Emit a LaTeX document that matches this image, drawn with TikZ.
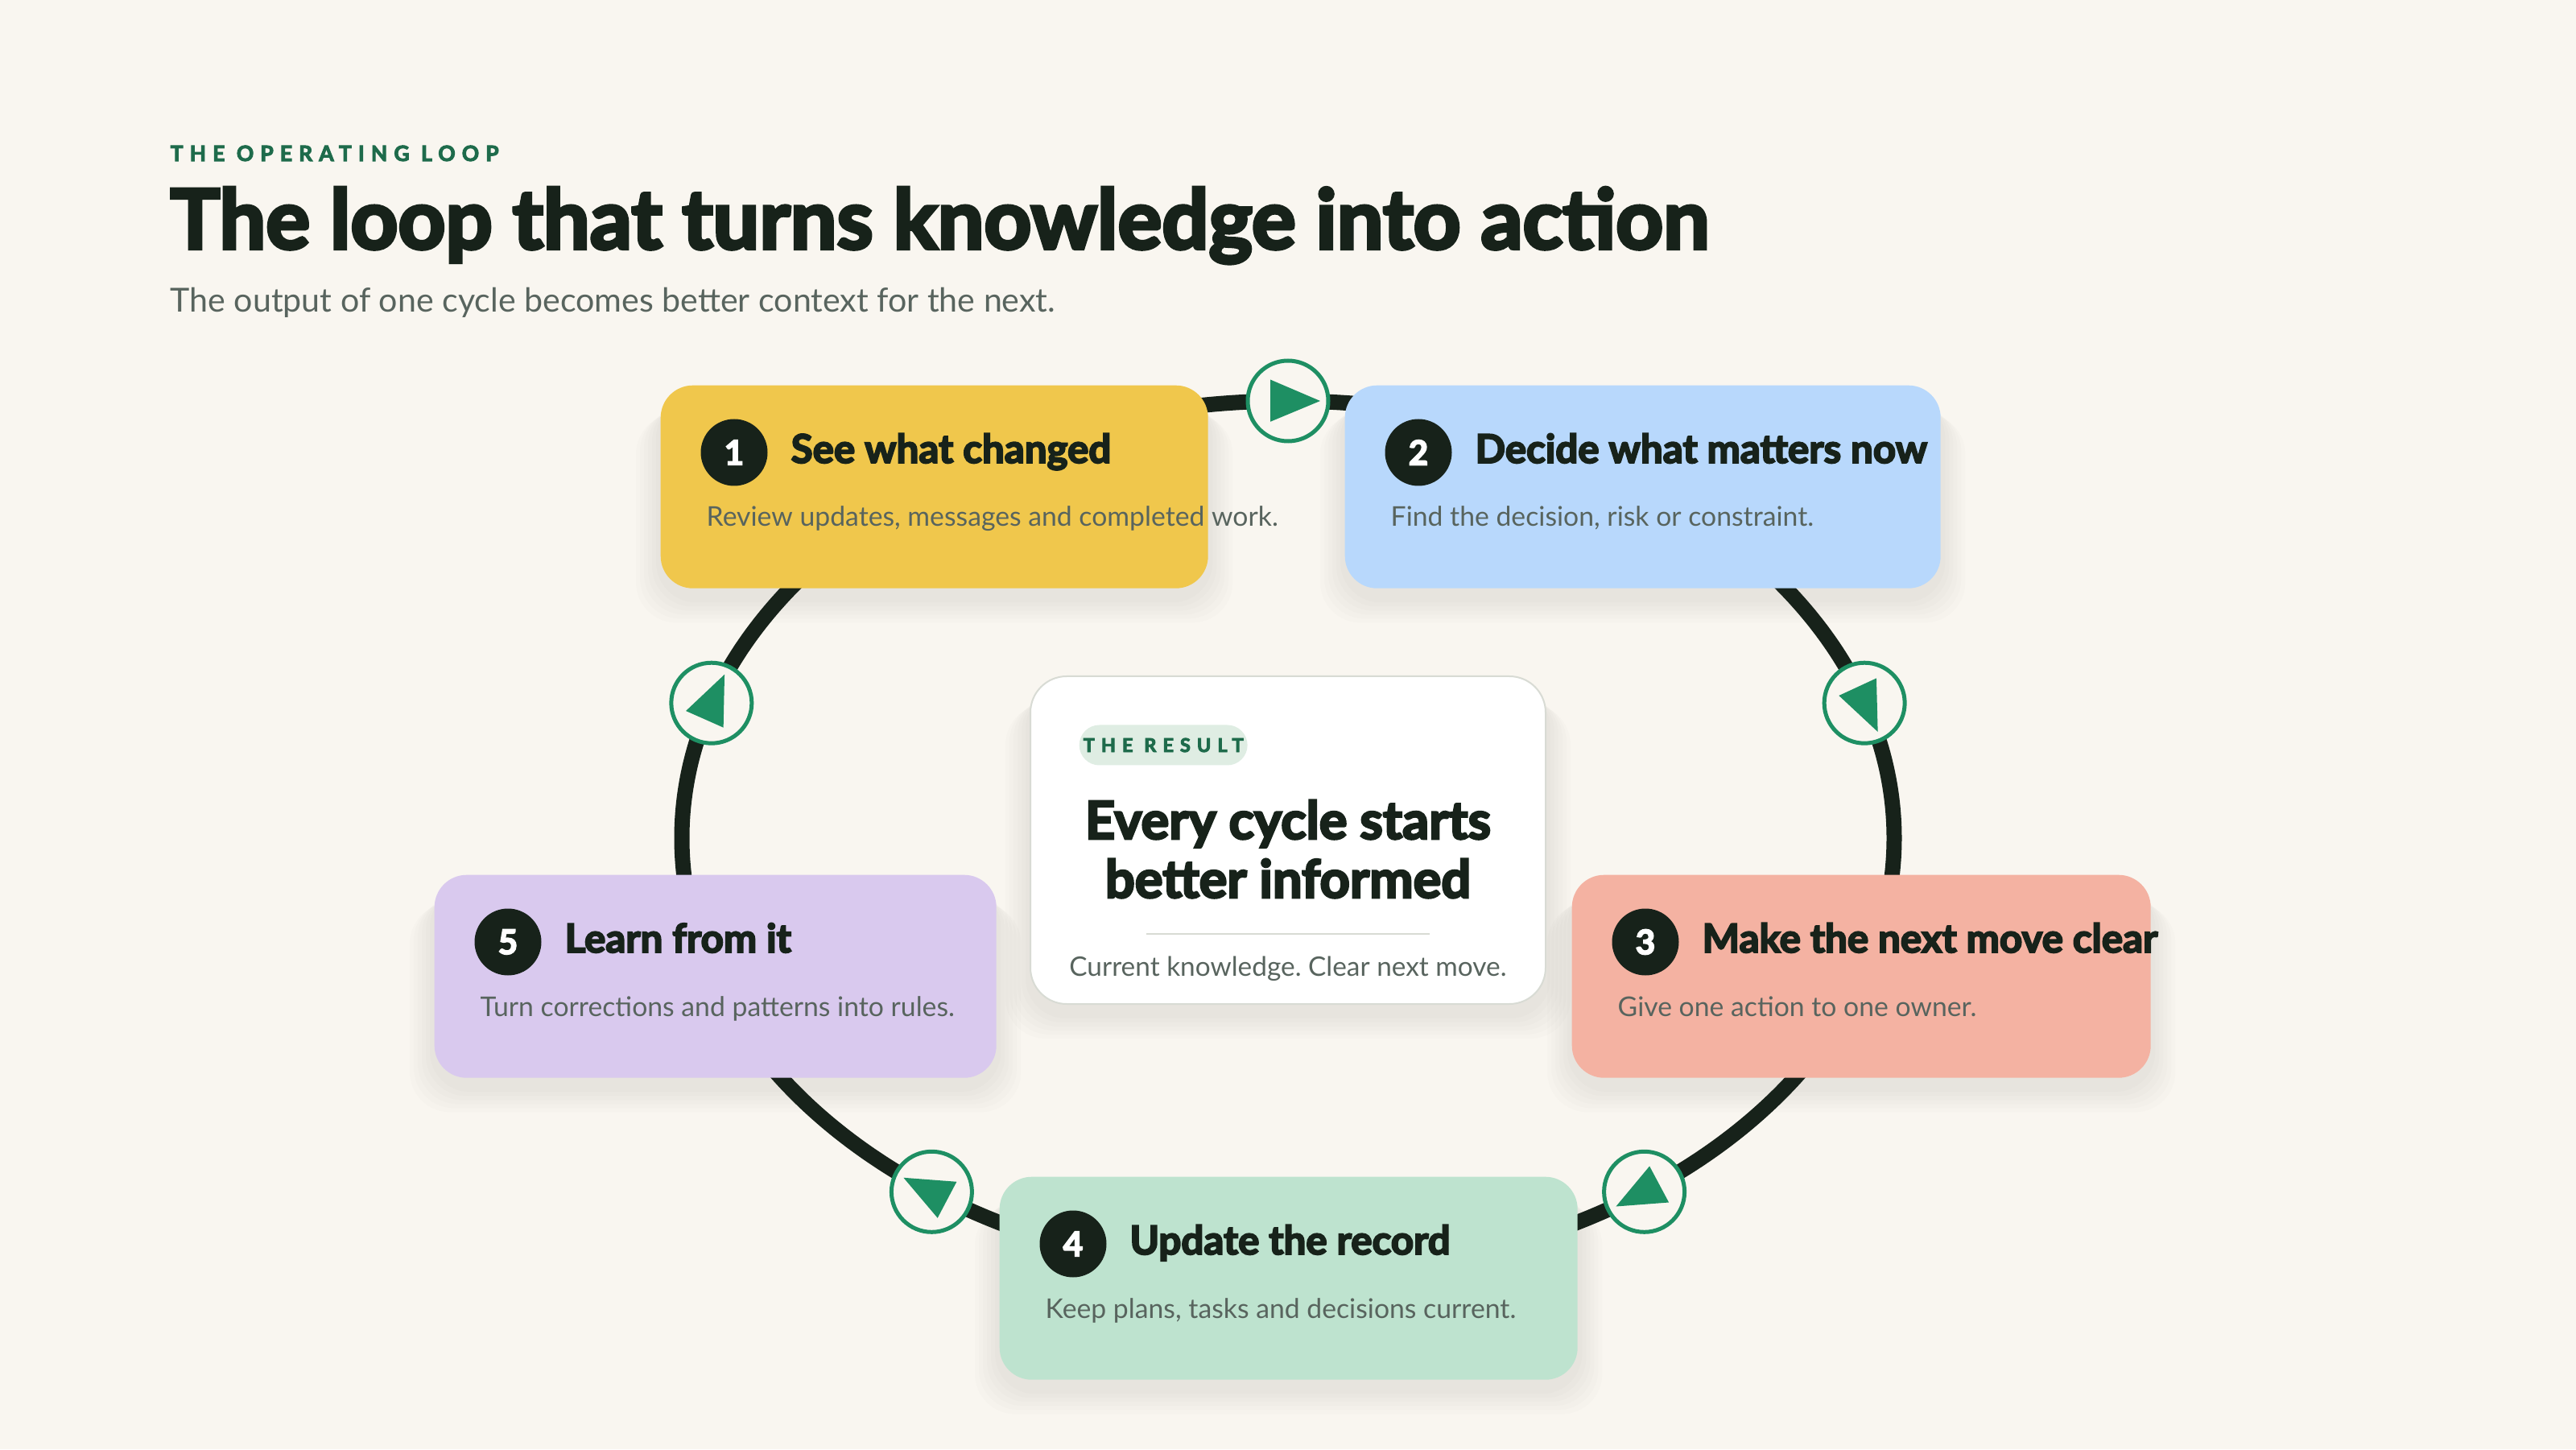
\documentclass[tikz,border=0pt]{standalone}
\usepackage{fontspec}
\usepackage{tikz}
\usetikzlibrary{positioning,backgrounds}

\setmainfont{Lato}
\newfontfamily\heavyfam{Lato}[BoldFeatures={FakeBold=4}]
\newcommand\heavy{\heavyfam\bfseries}
\frenchspacing

\definecolor{paper}{HTML}{F9F6F0}
\definecolor{ink}{HTML}{17221A}
\definecolor{muted}{HTML}{58645E}
\definecolor{kicker}{HTML}{1E6B4B}
\definecolor{loopgreen}{HTML}{1E8F63}
\definecolor{sunny}{HTML}{F0C74C}
\definecolor{sky}{HTML}{B8D8FC}
\definecolor{coral}{HTML}{F4B2A2}
\definecolor{mint}{HTML}{BEE3CF}
\definecolor{lilac}{HTML}{D9C9EE}
\definecolor{tagbg}{HTML}{DFEDE3}
\definecolor{hairline}{HTML}{D8DBD4}

\begin{document}
\begin{tikzpicture}
 \tikzstyle{card}=[rounded corners=0.4cm, minimum height=2.52cm, anchor=north west, inner sep=0]
 \tikzstyle{badge}=[circle, fill=ink, text=white, minimum size=0.83cm, inner sep=0, font=\heavy\fontsize{12}{12}\selectfont]
 \tikzstyle{steptitle}=[anchor=base west, inner sep=0, text=ink, font=\heavy\fontsize{14}{16}\selectfont]
 \tikzstyle{stepnote}=[anchor=base west, inner sep=0, text=muted, font=\fontsize{9.6}{11}\selectfont]
 \tikzstyle{turn}=[circle, draw=loopgreen, line width=0.05cm, fill=paper, minimum size=1cm, inner sep=0]
 \tikzstyle{haze}=[fill=ink, fill opacity=0.013, rounded corners=0.5cm]
 \useasboundingbox (0,0) rectangle (32,18);

 % heading
 \node[anchor=base west, inner sep=0, text=kicker, font=\heavy\fontsize{7.5}{9}\selectfont\addfontfeatures{LetterSpace=31}] (kick) at (2.11,16.0) {THE OPERATING LOOP};
 \node[anchor=base west, inner sep=0, text=ink, font=\heavy\fontsize{29.2}{30}\selectfont] (head) at (2.11,14.91) {The loop that turns knowledge into action};
 \node[anchor=base west, inner sep=0, text=muted, font=\fontsize{11.7}{13}\selectfont] (sub) at (2.11,14.12) {The output of one cycle becomes better context for the next.};

 % the five steps
 \node[card, fill=sunny, minimum width=6.8cm] (c1) at (8.2,13.22) {};
 \node[badge] (n1) at ([shift={(0.92,-0.84)}]c1.north west) {1};
 \node[steptitle] (t1) at ([shift={(1.62,-0.97)}]c1.north west) {See what changed};
 \node[stepnote] (d1) at ([shift={(0.57,-1.76)}]c1.north west) {Review updates, messages and completed work.};

 \node[card, fill=sky, minimum width=7.4cm] (c2) at (16.7,13.22) {};
 \node[badge] (n2) at ([shift={(0.92,-0.84)}]c2.north west) {2};
 \node[steptitle] (t2) at ([shift={(1.62,-0.97)}]c2.north west) {Decide what matters now};
 \node[stepnote] (d2) at ([shift={(0.57,-1.76)}]c2.north west) {Find the decision, risk or constraint.};

 \node[card, fill=coral, minimum width=7.19cm] (c3) at (19.52,7.14) {};
 \node[badge] (n3) at ([shift={(0.92,-0.84)}]c3.north west) {3};
 \node[steptitle] (t3) at ([shift={(1.62,-0.97)}]c3.north west) {Make the next move clear};
 \node[stepnote] (d3) at ([shift={(0.57,-1.76)}]c3.north west) {Give one action to one owner.};

 \node[card, fill=mint, minimum width=7.18cm] (c4) at (12.41,3.39) {};
 \node[badge] (n4) at ([shift={(0.92,-0.84)}]c4.north west) {4};
 \node[steptitle] (t4) at ([shift={(1.62,-0.97)}]c4.north west) {Update the record};
 \node[stepnote] (d4) at ([shift={(0.57,-1.76)}]c4.north west) {Keep plans, tasks and decisions current.};

 \node[card, fill=lilac, minimum width=6.98cm] (c5) at (5.39,7.14) {};
 \node[badge] (n5) at ([shift={(0.92,-0.84)}]c5.north west) {5};
 \node[steptitle] (t5) at ([shift={(1.62,-0.97)}]c5.north west) {Learn from it};
 \node[stepnote] (d5) at ([shift={(0.57,-1.76)}]c5.north west) {Turn corrections and patterns into rules.};

 % the result in the middle
 \node[draw=hairline, line width=0.02cm, fill=white, rounded corners=0.45cm, minimum width=6.4cm, minimum height=4.07cm, inner sep=0] (res) at (16.0,7.565) {};
 \node[anchor=west, fill=tagbg, rounded corners=0.25cm, minimum height=0.5cm, inner xsep=0.05cm, inner ysep=0, text=kicker, font=\heavy\fontsize{6.7}{8}\selectfont\addfontfeatures{LetterSpace=34}] (tag) at ([shift={(0.61,-0.865)}]res.north west) {THE RESULT};
 \node[anchor=base, inner sep=0, text=ink, font=\heavy\fontsize{18.5}{20}\selectfont] (rt1) at (16.0,7.58) {Every cycle starts};
 \node[anchor=base, inner sep=0, text=ink, font=\heavy\fontsize{18.5}{20}\selectfont] (rt2) at ([yshift=-0.73cm]rt1.base) {better informed};
 \coordinate (sepL) at (14.24,6.40);
 \coordinate (sepR) at (17.76,6.40);
 \draw[hairline, line width=0.02cm] (sepL) -- (sepR);
 \node[anchor=base, inner sep=0, text=muted, font=\fontsize{9.5}{11}\selectfont] (rfoot) at (16.0,5.88) {Current knowledge. Clear next move.};

 % turn markers on the loop
 \coordinate (ctr) at (16.0,7.59);
 \foreach \ang [count=\i] in {90, 18, -54, -126, 162}
  \node[turn] (a\i) at ([shift={(\ang:7.53 and 5.43)}]ctr) {};
 \fill[loopgreen, shift={(a1.center)}] (-0.22,0.265) -- (-0.22,-0.258) -- (0.40,0) -- cycle;
 \fill[loopgreen, shift={(a2.center)}] (0.148,0.308) -- (0.165,-0.358) -- (-0.318,0.092) -- cycle;
 \fill[loopgreen, shift={(a3.center)}] (0.065,0.318) -- (-0.352,-0.182) -- (0.305,-0.132) -- cycle;
 \fill[loopgreen, shift={(a4.center)}] (-0.35,0.175) -- (0.31,0.125) -- (0.073,-0.325) -- cycle;
 \fill[loopgreen, shift={(a5.center)}] (0.162,0.355) -- (0.148,-0.305) -- (-0.318,-0.098) -- cycle;

 \begin{scope}[on background layer]
  \fill[paper] (0,0) rectangle (32,18);
  \draw[ink, line width=0.19cm] (ctr) ellipse [x radius=7.53cm, y radius=5.43cm];
  \foreach \c in {c1,c2,c3,c4,c5,res}
   \foreach \k in {1,...,6}
    \fill[haze] ([shift={({-0.05*\k},{-0.12-0.04*\k})}]\c.north west) rectangle ([shift={({0.05*\k},{-0.12-0.05*\k})}]\c.south east);
 \end{scope}
\end{tikzpicture}
\end{document}
